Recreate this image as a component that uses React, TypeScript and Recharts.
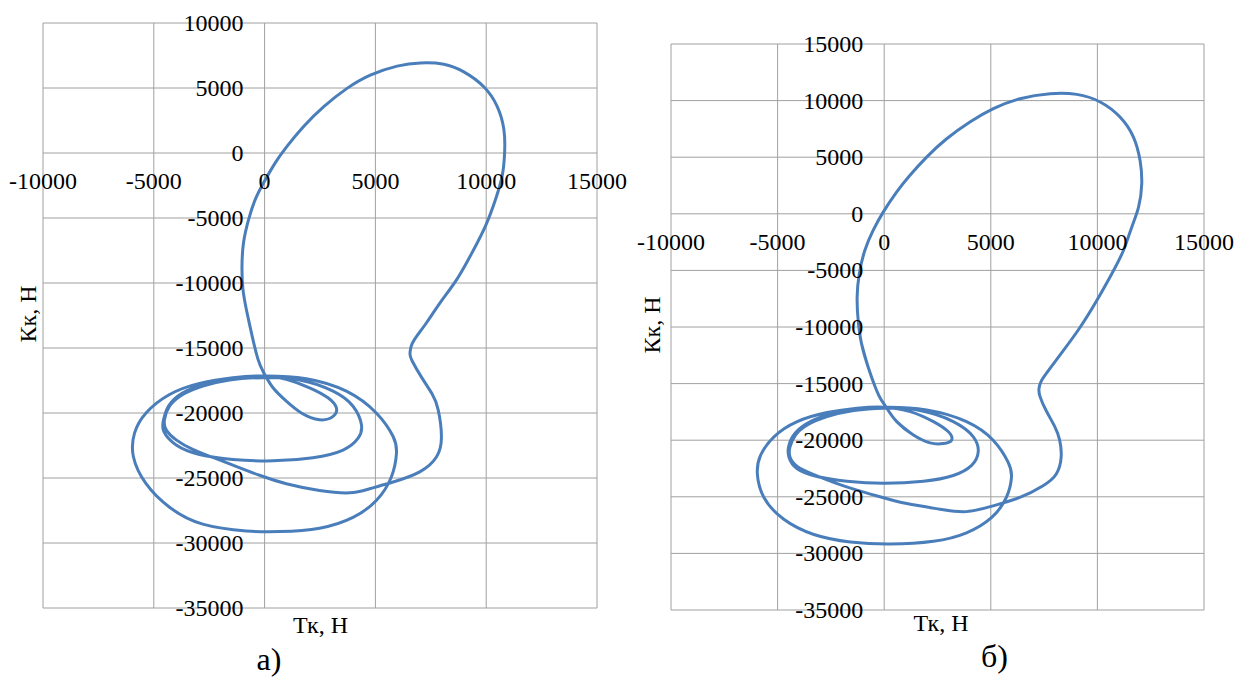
import React from "react";
import { ComposedChart, Line, XAxis, YAxis, CartesianGrid, ReferenceDot } from "recharts";

const LINE_COLOR = "#4a7ebb";
const GRID_COLOR = "#a0a0a0";
const FONT = "'Liberation Serif', 'DejaVu Serif', serif";

// tick values
const tkTicks = [-10000, -5000, 0, 5000, 10000, 15000];
const kkTicksA = [10000, 5000, 0, -5000, -10000, -15000, -20000, -25000, -30000, -35000];
const kkTicksB = [15000, 10000, 5000, 0, -5000, -10000, -15000, -20000, -25000, -30000, -35000];

// panel a) — Тк, Н (closed hodograph, ends overlap a little)
const tkA = [
  980, 380, -45, -300, -572, -800, -980, -1020, -950, -720, -420, -45, 480, 1010, 1760, 2670, 3720, 4770,
  5980, 7030, 8090, 8990, 9890, 10500, 10800, 10830, 10720, 10420, 9970, 9370, 8690, 7940, 7330, 6780,
  6600, 6560, 6660, 7100, 7550, 7830, 7980, 7760, 7000, 5800, 4740, 3840, 2480, 980, -230, -1430, -2330,
  -3240, -3990, -4440, -4520, -4290, -3690, -2790, -1580, -75, 1580, 3090, 3990, 4370, 4220, 3540, 2180,
  380, -1430, -2940, -3990, -4550, -4560, -4320, -3690, -2640, -1280, 75, 1880, 3690, 5040, 5800, 5950,
  5720, 5040, 3990, 2480, 680, -830, -2790, -4290, -5350, -5920, -5870, -5350, -4290, -2940, -1430, -75,
  980, 2030, 2860, 3240, 3090, 2480, 1660, 980, 380, -45, -300, -572, -800,
];
// panel a) — Кк, Н
const kkA = [
  -19090, -18060, -16890, -15860, -14010, -12230, -10450, -8660, -6880, -5100, -3570, -2290, -760, 510,
  2040, 3570, 4970, 5990, 6680, 6930, 6830, 6240, 5100, 3570, 1780, 0, -1780, -3570, -5600, -7640, -9680,
  -11470, -13000, -14300, -14950, -15450, -16000, -17300, -18500, -19740, -21810, -23370, -24530, -25310,
  -25830, -26140, -25960, -25440, -24790, -24010, -23420, -22800, -22070, -21300, -20520, -19480, -18580,
  -17930, -17460, -17280, -17460, -18320, -19480, -20910, -21940, -22850, -23440, -23680, -23570, -23190,
  -22460, -21420, -20520, -19430, -18450, -17720, -17280, -17150, -17360, -18320, -20000, -21810, -23110,
  -24920, -26730, -28030, -28860, -29120, -29070, -28550, -27250, -25440, -23370, -21550, -20000, -18580,
  -17720, -17280, -17150, -17410, -18060, -18830, -19610, -20260, -20520, -20000, -19090, -18060, -16890,
  -15860, -14010, -12230,
];

// panel б) — Тк, Н
const tkB = [
  1370, 590, 120, -150, -380, -750, -1060, -1220, -1270, -1170, -910, -520, -47, 580, 1200, 1990, 2930,
  4020, 5120, 6370, 7780, 9030, 10130, 11060, 11690, 12000, 12080, 11930, 11610, 11220, 10670, 9970, 9190,
  8400, 7700, 7360, 7260, 7310, 7600, 8000, 8230, 8300, 8070, 7450, 6360, 5110, 3860, 2620, 1060, -190,
  -1430, -2370, -3300, -4080, -4420, -4420, -4160, -3610, -2680, -1430, 0, 1680, 3240, 4180, 4410, 4100,
  3240, 1840, -30, -1750, -3150, -4080, -4470, -4470, -4160, -3460, -2370, -1120, 120, 1990, 3860, 5110,
  5810, 5970, 5730, 5030, 3860, 2310, 280, -1590, -3300, -4710, -5640, -5950, -5800, -5170, -4080, -2680,
  -1280, 0, 1220, 2310, 3010, 3160, 2770, 2150, 1370, 590, 120, -150, -380, -750, -1060,
];
// panel б) — Кк, Н
const kkB = [
  -19550, -18360, -17170, -16400, -15500, -13560, -11500, -9430, -7370, -5310, -3240, -1470, 150, 1920,
  3390, 5010, 6630, 8110, 9290, 10170, 10610, 10550, 9880, 8550, 6780, 4720, 2650, 590, -1180, -3240,
  -5310, -7660, -10020, -12090, -13860, -14800, -15450, -16150, -17400, -18800, -20000, -21490, -22980,
  -24020, -25060, -25800, -26310, -26100, -25600, -25000, -24320, -23720, -23040, -22320, -21490, -20600,
  -19550, -18660, -17920, -17380, -17170, -17380, -18360, -19700, -21040, -22230, -23120, -23630, -23810,
  -23630, -23210, -22530, -21490, -20450, -19350, -18360, -17620, -17230, -17080, -17320, -18360, -20000,
  -21930, -23270, -25060, -26840, -28180, -28930, -29170, -28990, -28330, -26990, -25060, -22980, -21340,
  -19700, -18360, -17560, -17170, -17080, -17470, -18360, -19260, -20000, -20300, -20240, -19550, -18360,
  -17170, -16400, -15500, -13560, -11500,
];

const toPoints = (tk: number[], kk: number[]) => tk.map((x, i) => ({ tk: x, kk: kk[i] }));

function Panel(props: {
  tk: number[];
  kk: number[];
  kkTicks: number[];
  width: number;
  height: number;
  margin: { top: number; right: number; bottom: number; left: number };
}) {
  const data = toPoints(props.tk, props.kk);
  const yMin = Math.min(...props.kkTicks);
  const yMax = Math.max(...props.kkTicks);
  return (
    <ComposedChart width={props.width} height={props.height} margin={props.margin} data={data}>
      <CartesianGrid stroke={GRID_COLOR} strokeWidth={1} />
      <XAxis type="number" dataKey="tk" domain={[tkTicks[0], tkTicks[tkTicks.length - 1]]} ticks={tkTicks} hide />
      <YAxis type="number" domain={[yMin, yMax]} ticks={props.kkTicks} hide />
      {tkTicks.map((v) => (
        <ReferenceDot
          key={"tx" + v}
          x={v}
          y={0}
          ifOverflow="visible"
          shape={(p: any) => (
            <text x={p.cx} y={p.cy + 36} textAnchor="middle" fontFamily={FONT} fontSize={24} fill="#000">
              {String(v)}
            </text>
          )}
        />
      ))}
      {props.kkTicks.map((v) => (
        <ReferenceDot
          key={"ty" + v}
          x={0}
          y={v}
          ifOverflow="visible"
          shape={(p: any) => (
            <text x={p.cx - 21} y={p.cy + 8} textAnchor="end" fontFamily={FONT} fontSize={24} fill="#000">
              {String(v)}
            </text>
          )}
        />
      ))}
      <Line
        dataKey="kk"
        type="natural"
        stroke={LINE_COLOR}
        strokeWidth={3}
        dot={false}
        activeDot={false}
        isAnimationActive={false}
      />
    </ComposedChart>
  );
}

export default function App() {
  return (
    <div style={{ position: "absolute", left: 0, top: 0, width: 1235, height: 677, background: "#fff" }}>
      <div style={{ position: "absolute", left: 0, top: 0 }}>
        <Panel tk={tkA} kk={kkA} kkTicks={kkTicksA} width={650} height={677}
          margin={{ top: 23, right: 53, bottom: 69, left: 43 }} />
      </div>
      <div style={{ position: "absolute", left: 620, top: 0 }}>
        <Panel tk={tkB} kk={kkB} kkTicks={kkTicksB} width={615} height={677}
          margin={{ top: 44, right: 31, bottom: 67, left: 51 }} />
      </div>
      <svg width={1235} height={677} style={{ position: "absolute", left: 0, top: 0, pointerEvents: "none" }}>
        <g fontFamily={FONT} fill="#000">
          <text x={35.5} y={314} fontSize={24} textAnchor="middle" transform="rotate(-90 35.5 314)">Кк, Н</text>
          <text x={320.5} y={633} fontSize={24} textAnchor="middle">Тк, Н</text>
          <text x={269} y={670} fontSize={32} textAnchor="middle">а)</text>
          <text x={660} y={325} fontSize={24} textAnchor="middle" transform="rotate(-90 660 325)">Кк, Н</text>
          <text x={941} y={631} fontSize={24} textAnchor="middle">Тк, Н</text>
          <text x={994.5} y={667} fontSize={32} textAnchor="middle">б)</text>
        </g>
      </svg>
    </div>
  );
}
